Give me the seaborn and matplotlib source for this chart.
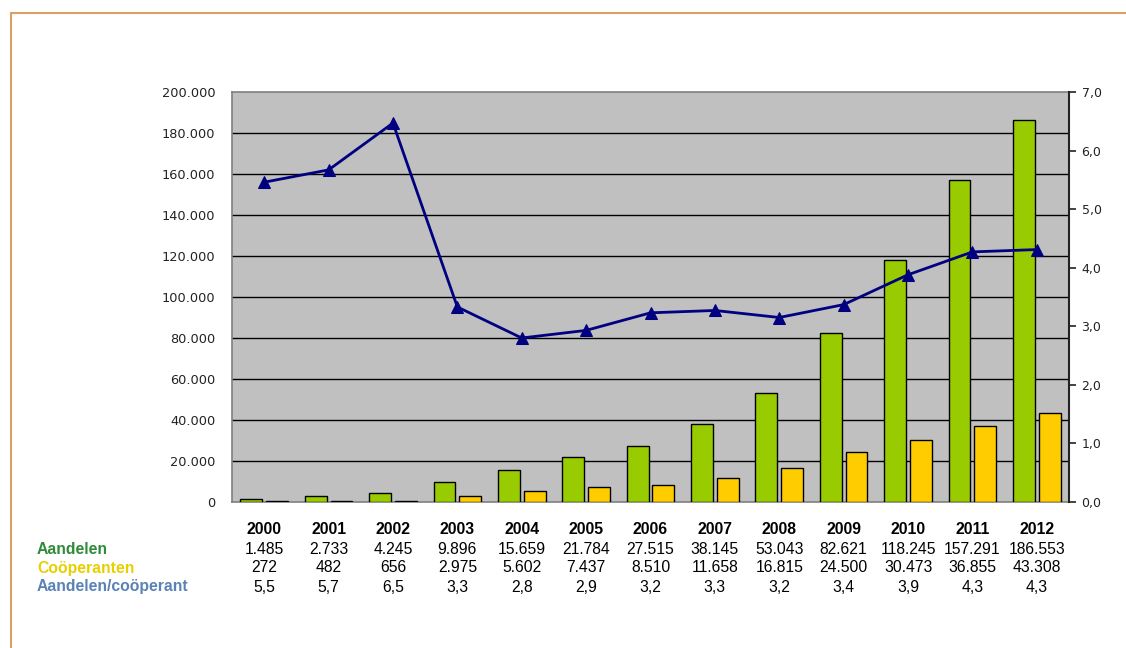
import numpy as np
import pandas as pd
import matplotlib.pyplot as plt
import seaborn as sns
from matplotlib.lines import Line2D
from matplotlib.transforms import blended_transform_factory

# Data
years = ["2000", "2001", "2002", "2003", "2004", "2005", "2006",
         "2007", "2008", "2009", "2010", "2011", "2012"]
aandelen = [1485, 2733, 4245, 9896, 15659, 21784, 27515,
            38145, 53043, 82621, 118245, 157291, 186553]
cooperanten = [272, 482, 656, 2975, 5602, 7437, 8510,
               11658, 16815, 24500, 30473, 36855, 43308]
ratio = [5.46, 5.67, 6.47, 3.33, 2.80, 2.93, 3.23,
         3.27, 3.15, 3.37, 3.88, 4.27, 4.31]
ratio_labels = ["5,5", "5,7", "6,5", "3,3", "2,8", "2,9", "3,2",
                "3,3", "3,2", "3,4", "3,9", "4,3", "4,3"]

green = "#99cc00"
yellow = "#ffcc00"
navy = "#000080"

df = pd.DataFrame({
    "jaar": years * 2,
    "waarde": aandelen + cooperanten,
    "reeks": ["Aandelen"] * len(years) + ["Coöperanten"] * len(years),
})

sns.set_style("white")
plt.rcParams["font.family"] = ["DejaVu Sans"]

fig = plt.figure(figsize=(11.26, 6.48), dpi=100)
ax = fig.add_axes([232 / 1126, 146 / 648, 837 / 1126, 410 / 648])
ax.set_facecolor("#c0c0c0")

sns.barplot(data=df, x="jaar", y="waarde", hue="reeks",
            palette=[green, yellow], width=0.8, gap=0.15,
            edgecolor="black", linewidth=1, saturation=1,
            legend=False, ax=ax, zorder=3)

ax.set_xlim(-0.5, len(years) - 0.5)
ax.set_ylim(0, 200000)
ax.set_yticks(np.arange(0, 200001, 20000))
ax.set_yticklabels([f"{int(v):,}".replace(",", ".") for v in np.arange(0, 200001, 20000)],
                   fontsize=9.3, color="#222222")
ax.tick_params(axis="y", length=0, pad=12)
ax.set_xticks([])
ax.set_xlabel("")
ax.set_ylabel("")
for v in np.arange(20000, 200000, 20000):
    ax.axhline(v, color="black", lw=1, zorder=1)
for s in ax.spines.values():
    s.set_color("#808080")
    s.set_linewidth(1.2)

ax2 = ax.twinx()
sns.lineplot(x=np.arange(len(years)), y=ratio, ax=ax2, color=navy,
             lw=2, marker="^", markersize=9, markeredgecolor=navy, zorder=5)
ax2.set_ylim(0, 7)
ax2.set_yticks(np.arange(0, 7.1, 1))
ax2.set_yticklabels([f"{v:.1f}".replace(".", ",") for v in np.arange(0, 7.1, 1)],
                    fontsize=9, color="#222222")
ax2.tick_params(axis="y", direction="out", length=5, width=1.2, color="#222222", pad=4)
ax2.spines["right"].set_color("#222222")
ax2.spines["right"].set_linewidth(1.5)
for side in ["top", "left", "bottom"]:
    ax2.spines[side].set_visible(False)
ax2.set_xlim(-0.5, len(years) - 0.5)

# Data table below the chart
tr = blended_transform_factory(ax.transData, fig.transFigure)
rows_y = [1 - 530 / 648, 1 - 549 / 648, 1 - 568 / 648, 1 - 587 / 648]
fam = ["Liberation Sans", "DejaVu Sans"]
fmt = lambda v: f"{v:,}".replace(",", ".")
for i, y in enumerate(years):
    fig.text(i, rows_y[0], y, transform=tr, ha="center", va="center",
             fontsize=11.3, fontweight="bold", family=fam, color="black")
    fig.text(i, rows_y[1], fmt(aandelen[i]), transform=tr, ha="center", va="center",
             fontsize=11.3, family=fam, color="black")
    fig.text(i, rows_y[2], fmt(cooperanten[i]), transform=tr, ha="center", va="center",
             fontsize=11.3, family=fam, color="black")
    fig.text(i, rows_y[3], ratio_labels[i], transform=tr, ha="center", va="center",
             fontsize=11.3, family=fam, color="black")

row_names = ["Aandelen", "Coöperanten", "Aandelen/coöperant"]
row_colors = ["#2e8b3a", "#e6d000", "#5a82b4"]
for name, col, y in zip(row_names, row_colors, rows_y[1:]):
    fig.text(37 / 1126, y, name, ha="left", va="center", fontsize=11.3,
             fontweight="bold", color=col, family=fam)

# Orange frame (top and left edges visible)
fig.add_artist(Line2D([11 / 1126, 1.0], [1 - 13 / 648, 1 - 13 / 648],
                      transform=fig.transFigure, color="#dda064", lw=1.5))
fig.add_artist(Line2D([11 / 1126, 11 / 1126], [0.0, 1 - 13 / 648],
                      transform=fig.transFigure, color="#dda064", lw=1.5))

fig.savefig("out.png", dpi=100)
